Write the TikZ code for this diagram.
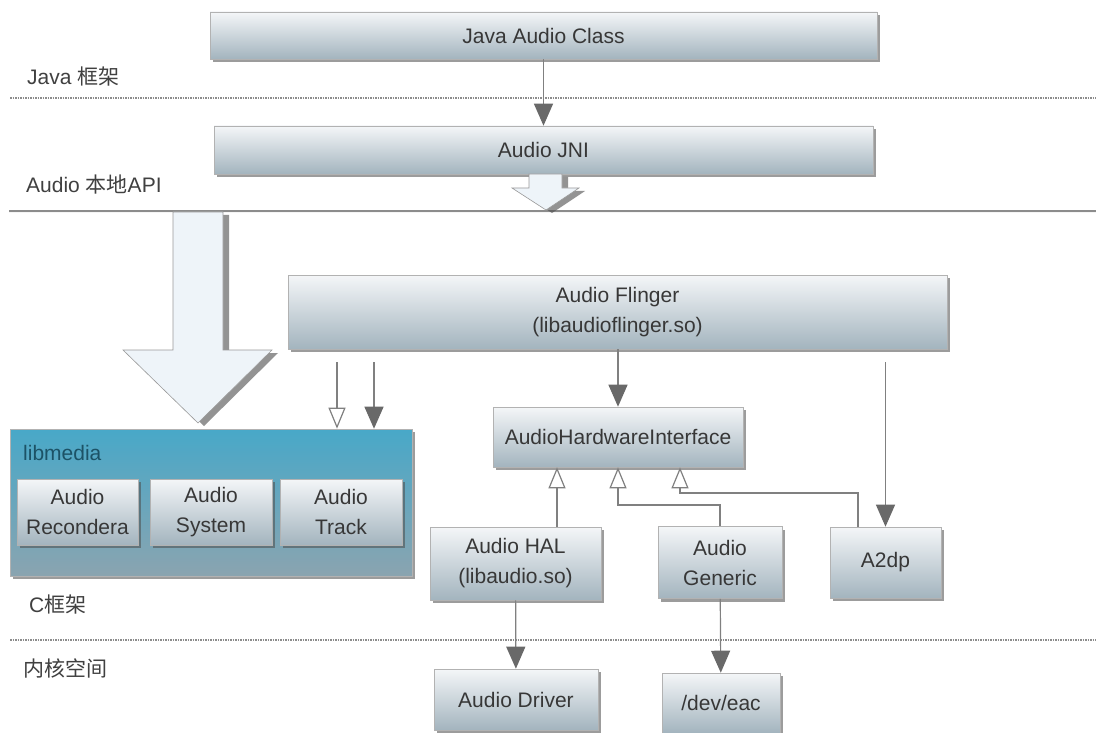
\documentclass[tikz,border=0pt]{standalone}
\usepackage{fontspec}
\setmainfont{Liberation Sans}
\newfontfamily\cjk{Noto Sans CJK SC}
\usetikzlibrary{arrows.meta,shadows}
\definecolor{boxtop}{RGB}{244,246,248}
\definecolor{boxbot}{RGB}{163,180,190}
\definecolor{boxtext}{RGB}{55,55,55}
\definecolor{libtop}{RGB}{72,168,200}
\definecolor{libbot}{RGB}{138,164,176}
\definecolor{libtext}{RGB}{28,82,102}
\definecolor{wire}{RGB}{128,128,128}
\definecolor{tipgray}{RGB}{105,105,105}
\definecolor{fatfill}{RGB}{238,244,249}

\begin{document}
\begin{tikzpicture}[
  x=1pt, y=-1pt,
  block/.style = {draw=black!30, line width=.6pt, top color=boxtop, bottom color=boxbot,
    drop shadow={shadow xshift=3pt, shadow yshift=-3pt, opacity=.55, fill=black!70},
    text=boxtext, font=\fontsize{21}{30}\selectfont, align=center, inner sep=0pt},
  libbox/.style = {block, top color=libtop, bottom color=libbot},
  tag/.style = {anchor=west, text=black!75, font=\fontsize{21}{25}\selectfont, inner sep=0pt},
  call/.style = {draw=wire, line width=1.2pt, -{Triangle[length=22pt,width=19pt,color=tipgray]}},
  inherit/.style = {draw=wire, line width=1.2pt, -{Triangle[open,length=21pt,width=17pt,fill=white]}},
  fatarrow/.style = {draw=black!40, line width=.6pt, fill=fatfill,
    drop shadow={shadow xshift=6pt, shadow yshift=-3pt, opacity=.6, fill=black!70}},
  rule/.style = {draw=black!45, line width=1.2pt,
    drop shadow={shadow xshift=0pt, shadow yshift=-2pt, opacity=.3, fill=black}},
  dotrule/.style = {draw=black!45, line width=1.6pt, dash pattern=on 1.5pt off 1pt}
  ]
  \useasboundingbox (0,0) rectangle (1096,733);
  \fill[white] (0,0) rectangle (1096,733);
  \draw[dotrule] (10,98) -- (1096,98);
  \draw[rule] (9,211) -- (1096,211);
  \draw[dotrule] (10,640) -- (1096,640);
  \node[tag] (javatag) at (27,77) {Java {\cjk 框架}};
  \node[tag] (apitag) at (26,185) {Audio {\cjk 本地}API};
  \node[tag] (ctag) at (29,605) {C{\cjk 框架}};
  \node[tag] (kerneltag) at (23,668) {{\cjk 内核空间}};
  \node[block, minimum width=667pt, minimum height=47pt] (jclass) at (543.5,35.5) {Java Audio Class};
  \node[block, minimum width=659pt, minimum height=48pt] (jni) at (543.5,150) {Audio JNI};
  \node[block, minimum width=659pt, minimum height=74pt] (flinger) at (617.5,312) {Audio Flinger\\(libaudioflinger.so)};
  \node[block, minimum width=250pt, minimum height=60pt] (ahi) at (618,437) {AudioHardwareInterface};
  \node[block, minimum width=171pt, minimum height=73pt] (hal) at (515.5,563.5) {Audio HAL\\(libaudio.so)};
  \node[block, minimum width=124pt, minimum height=72pt] (generic) at (720,562.5) {Audio\\Generic};
  \node[block, minimum width=111pt, minimum height=71pt] (a2dp) at (885.5,562.5) {A2dp};
  \node[block, minimum width=164pt, minimum height=61pt] (driver) at (516,699.5) {Audio Driver};
  \node[block, minimum width=118pt, minimum height=60pt] (deveac) at (721,703) {/dev/eac};
  \node[libbox, minimum width=402pt, minimum height=147pt] (libmedia) at (211,502.5) {};
  \node[tag, text=libtext] (libname) at (23,453) {libmedia};
  \node[block, minimum width=121pt, minimum height=66pt] (recorder) at (77.5,512) {Audio\\Recondera};
  \node[block, minimum width=122pt, minimum height=66pt] (system) at (211,512) {Audio\\System};
  \node[block, minimum width=122pt, minimum height=66pt] (track) at (341,512) {Audio\\Track};
  \draw[fatarrow] (173,212) -- (173,350) -- (123,350) -- (198,423) -- (272,350) -- (223,350) -- (223,212) -- cycle;
  \draw[fatarrow] (529,174) -- (529,188) -- (512,188) -- (546,210) -- (579,188) -- (562,188) -- (562,174) -- cycle;
  \coordinate (openx) at (337,0);
  \coordinate (usex) at (374,0);
  \coordinate (halx) at (557,0);
  \coordinate (genbend) at (618,505);
  \coordinate (a2x) at (858,0);
  \coordinate (a2bend) at (680,493);
  \draw[call] (jclass) -- (jni);
  \draw[call] (flinger.south -| ahi.north) -- (ahi.north);
  \draw[call, shorten <=13pt] (flinger.south -| a2dp.north) -- (a2dp.north);
  \draw[inherit, shorten <=13pt] (flinger.south -| openx) -- (libmedia.north -| openx);
  \draw[call, shorten <=13pt] (flinger.south -| usex) -- (libmedia.north -| usex);
  \draw[inherit] (hal.north -| halx) -- (ahi.south -| halx);
  \draw[inherit] (generic.north) |- (genbend) -- (ahi.south -| genbend);
  \draw[inherit] (a2dp.north -| a2x) |- (a2bend) -- (ahi.south -| a2bend);
  \draw[call] (hal) -- (driver);
  \draw[call] (generic) -- (deveac);
\end{tikzpicture}
\end{document}
